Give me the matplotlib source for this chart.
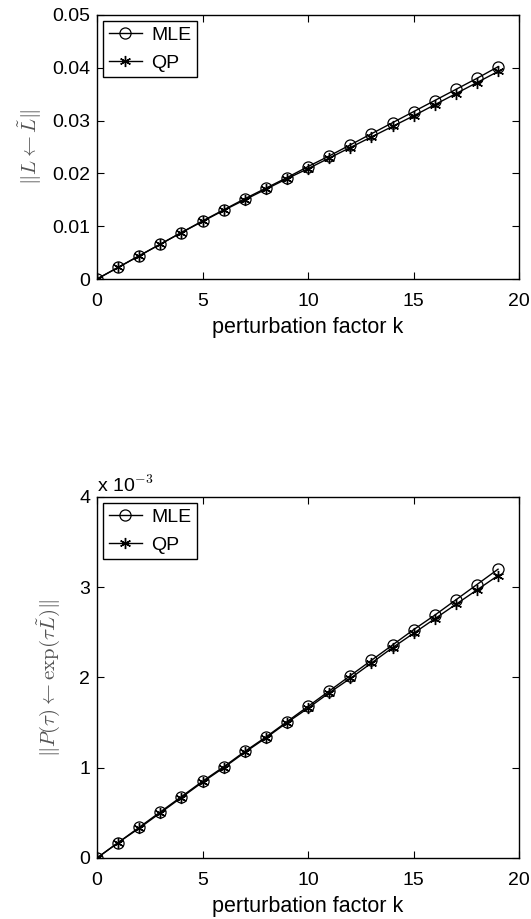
import numpy as np
from matplotlib import pyplot as plt
from matplotlib.ticker import FuncFormatter

plt.rcParams['font.family'] = ['Liberation Sans', 'DejaVu Sans']
plt.rcParams['mathtext.fontset'] = 'cm'

k = list(range(20))

# top panel: ||L - L~||
mle_top = [0, 0.0022, 0.0044, 0.0066, 0.0088, 0.0110, 0.0131, 0.0152, 0.0172, 0.0192,
           0.0213, 0.0233, 0.0254, 0.0275, 0.0296, 0.0317, 0.0338, 0.0359, 0.0380, 0.0402]
qp_top = [0, 0.0022, 0.0044, 0.0066, 0.0088, 0.0109, 0.0130, 0.0150, 0.0170, 0.0190,
          0.0209, 0.0229, 0.0249, 0.0269, 0.0289, 0.0309, 0.0330, 0.0351, 0.0372, 0.0393]

# bottom panel: ||P(tau) - exp(tau L~)||, in units of 1e-3
mle_bot = [0, 0.17, 0.34, 0.51, 0.68, 0.85, 1.01, 1.18, 1.34, 1.51,
           1.68, 1.85, 2.02, 2.19, 2.36, 2.53, 2.69, 2.86, 3.03, 3.20]
qp_bot = [0, 0.17, 0.33, 0.50, 0.67, 0.84, 1.00, 1.17, 1.33, 1.50,
          1.66, 1.83, 1.99, 2.16, 2.33, 2.49, 2.65, 2.81, 2.97, 3.13]

fig = plt.figure(figsize=(5.31, 9.19), dpi=100)
ax1 = fig.add_axes([0.1827, 0.6964, 0.795, 0.2873])
ax2 = fig.add_axes([0.1827, 0.0664, 0.795, 0.3928])

fmt = FuncFormatter(lambda v, p: '%g' % v)
FS = 14


def style(ax):
    ax.tick_params(direction='in', length=5, width=0.8, top=True, right=True,
                   labelsize=FS)
    ax.tick_params(axis='x', pad=10)
    ax.tick_params(axis='y', pad=5)
    for s in ax.spines.values():
        s.set_linewidth(1.0)
    ax.xaxis.set_major_formatter(fmt)
    ax.yaxis.set_major_formatter(fmt)
    ax.set_xlim(0, 20)
    ax.set_xticks([0, 5, 10, 15, 20])
    ax.set_xlabel('perturbation factor k', fontsize=15.5, labelpad=5)
    leg = ax.legend(loc='upper left', fontsize=FS, fancybox=False, framealpha=1,
                    edgecolor='black', borderaxespad=0.3, handlelength=1.7,
                    handletextpad=0.5, borderpad=0.3, labelspacing=0.5)
    leg.get_frame().set_linewidth(1.0)


for ax, m, q in [(ax1, mle_top, qp_top), (ax2, mle_bot, qp_bot)]:
    ax.plot(k, m, '-o', color='black', lw=1, ms=8, mfc='none', mew=0.9, label='MLE')
    ax.plot(k, q, '-', marker=(6, 2, 0), color='black', lw=1, ms=8, mew=1.0, label='QP')
    style(ax)

ax1.set_ylim(0, 0.05)
ax1.set_yticks([0, 0.01, 0.02, 0.03, 0.04, 0.05])
ax1.set_ylabel(r'$\|L \leftarrow \tilde{L}\|$', fontsize=15, color='#555555', labelpad=6)

ax2.set_ylim(0, 4)
ax2.set_yticks([0, 1, 2, 3, 4])
ax2.set_ylabel(r'$\|P(\tau) \leftarrow \exp(\tau \tilde{L})\|$', fontsize=15,
               color='#555555', labelpad=12)
ax2.text(0.0, 1.003, r'x 10$^{-3}$', transform=ax2.transAxes, fontsize=FS,
         ha='left', va='bottom')

fig.savefig('out.png', dpi=100)
